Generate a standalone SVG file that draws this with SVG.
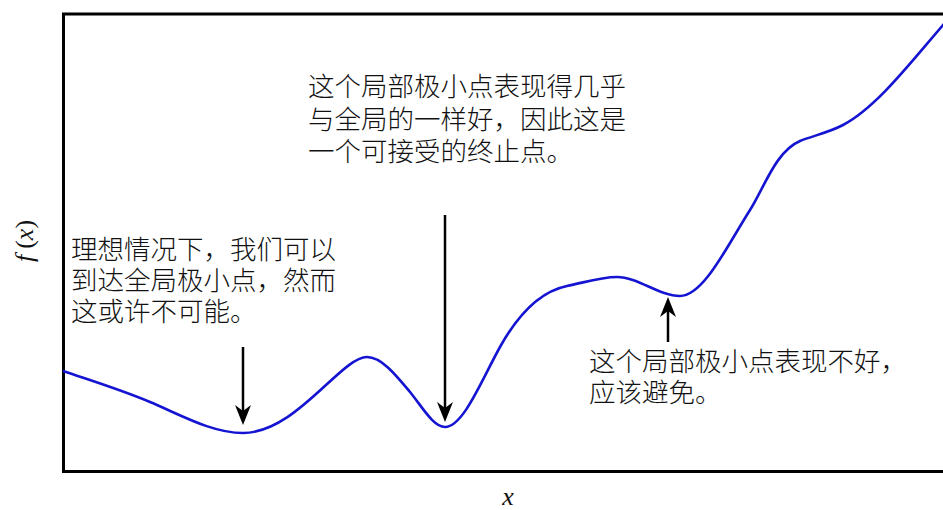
<svg xmlns="http://www.w3.org/2000/svg" width="943" height="510" viewBox="0 0 943 510">
<style>
.cn{font-family:"Noto Sans CJK SC","Noto Sans",sans-serif;font-size:26.5px;font-weight:300;fill:#111}
.math{font-family:"Liberation Serif","DejaVu Serif",serif;fill:#111}
.arr{stroke:#000;stroke-width:2.5;fill:none;marker-end:url(#ah)}
.curve{stroke:#1414d2;stroke-width:2.6;fill:none;stroke-linejoin:round}
</style>
<defs>
<marker id="ah" viewBox="-20 -8 20 16" refX="-12" refY="0" markerWidth="20" markerHeight="16" markerUnits="userSpaceOnUse" orient="auto">
<path d="M0,0 L-20,-8 L-14,0 L-20,8 Z" fill="#000"/>
</marker>
</defs>
<rect width="943" height="510" fill="#fff"/>
<g id="frame">
<rect x="63.5" y="14" width="900" height="457.5" fill="none" stroke="#000" stroke-width="3"/>
</g>
<g id="curve">
<path class="curve" d="M63,371 C92,380.9 121,389.8 150,402 C181,415 212,433 243,433 C296,433 341,357 367,357 C381.3,357 395.7,374.7 410,392 C421.7,406.2 433.3,427 445,427 C463.3,427 481.7,379.8 500,347 C522.3,307 544.7,290.5 567,286 C583.7,282.7 600.3,277 617,277 C638,277 659,296 680,296 C703.3,296 726.7,246.8 750,210 C764,187.9 776,151 800,141 C812,136 828.7,132.6 843,125 C876.3,107.3 909.7,63.7 943,25 L960,5"/>
</g>
<g id="connectors">
<line class="arr" x1="243" y1="347" x2="243" y2="413"/>
<line class="arr" x1="445" y1="215" x2="445" y2="410"/>
<line class="arr" x1="668" y1="342" x2="668" y2="309"/>
</g>
<g id="label-global">
<text class="cn" x="71" y="259">理想情况下，我们可以</text>
<text class="cn" x="71" y="290">到达全局极小点，然而</text>
<text class="cn" x="71" y="321">这或许不可能。</text>
</g>
<g id="label-good">
<text class="cn" x="308" y="96">这个局部极小点表现得几乎</text>
<text class="cn" x="308" y="128.5">与全局的一样好，因此这是</text>
<text class="cn" x="308" y="161">一个可接受的终止点。</text>
</g>
<g id="label-bad">
<text class="cn" x="589" y="370.5">这个局部极小点表现不好，</text>
<text class="cn" x="589" y="401.5">应该避免。</text>
</g>
<g id="axis-labels">
<text class="math" font-size="26" transform="translate(33,241) rotate(-90)" text-anchor="middle"><tspan font-style="italic">f</tspan><tspan dx="6">(</tspan><tspan font-style="italic">x</tspan>)</text>
<text class="math" font-size="26" font-style="italic" x="508" y="505" text-anchor="middle">x</text>
</g>
</svg>
